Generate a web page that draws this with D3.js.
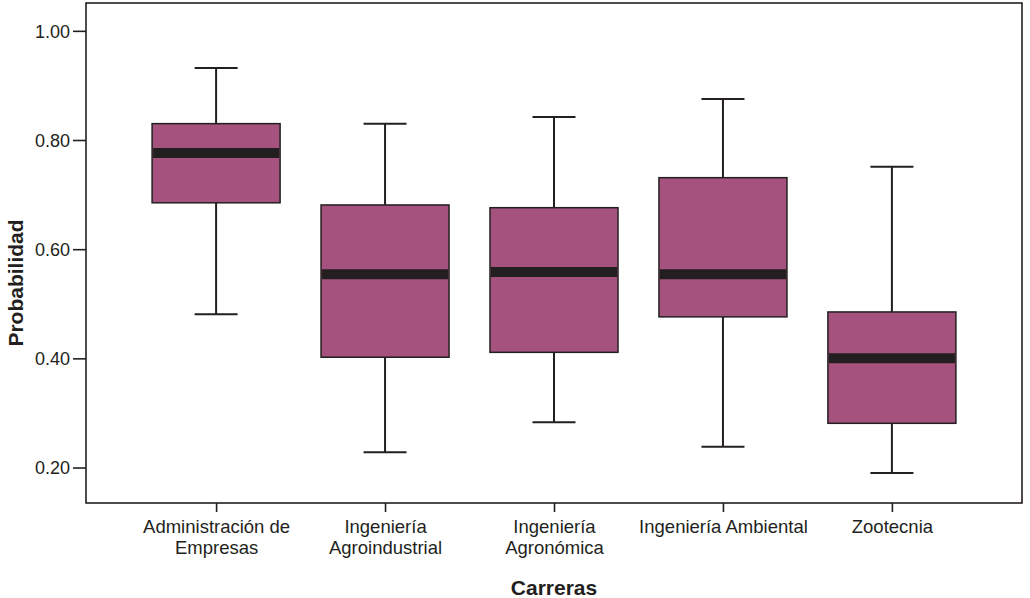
<!DOCTYPE html>
<html>
<head>
<meta charset="utf-8">
<script src="https://cdn.jsdelivr.net/npm/d3@7"></script>
<style>
  body { margin: 0; background: #fff; }
  svg { display: block; font-family: "Liberation Sans", Arial, sans-serif; }
</style>
</head>
<body>
<svg id="chart" width="1030" height="598"></svg>
<script>
// values
var carreras = [
  ["Administración de", "Empresas"],
  ["Ingeniería", "Agroindustrial"],
  ["Ingeniería", "Agronómica"],
  ["Ingeniería Ambiental"],
  ["Zootecnia"]
];
var whiskerLow  = [0.481, 0.228, 0.283, 0.238, 0.190];
var q1          = [0.685, 0.402, 0.411, 0.476, 0.281];
var medians     = [0.776, 0.554, 0.558, 0.554, 0.400];
var q3          = [0.830, 0.681, 0.676, 0.731, 0.485];
var whiskerHigh = [0.932, 0.830, 0.842, 0.875, 0.751];
var yTicks = [0.2, 0.4, 0.6, 0.8, 1.0];

var ink = "#231f20",
    fill = "#a5527e";

var svg = d3.select("#chart"),
    margin = {left: 86, right: 8, top: 3, bottom: 95},
    width = +svg.attr("width") - margin.left - margin.right,
    height = +svg.attr("height") - margin.top - margin.bottom;

var g = svg.append("g").attr("transform", "translate(" + margin.left + "," + margin.top + ")");

var keys = carreras.map(function(d) { return d.join(" "); });

var x = d3.scalePoint()
    .domain(keys)
    .range([0, width])
    .padding(0.77);

var y = d3.scaleLinear()
    .domain([0.135, 1.051])
    .range([height, 0]);

var boxW = 128, capW = 43;

var rows = keys.map(function(k, i) {
  return {key: k, lo: whiskerLow[i], q1: q1[i], med: medians[i], q3: q3[i], hi: whiskerHigh[i]};
});

var box = g.selectAll(".box").data(rows).enter().append("g")
    .attr("class", "box")
    .attr("transform", function(d) { return "translate(" + x(d.key) + ",0)"; });

// whiskers
box.append("line")
    .attr("y1", function(d) { return y(d.hi); })
    .attr("y2", function(d) { return y(d.q3); })
    .attr("stroke", ink).attr("stroke-width", 2);
box.append("line")
    .attr("y1", function(d) { return y(d.q1); })
    .attr("y2", function(d) { return y(d.lo); })
    .attr("stroke", ink).attr("stroke-width", 2);
box.append("line")
    .attr("x1", -capW / 2).attr("x2", capW / 2)
    .attr("y1", function(d) { return y(d.hi); })
    .attr("y2", function(d) { return y(d.hi); })
    .attr("stroke", ink).attr("stroke-width", 2);
box.append("line")
    .attr("x1", -capW / 2).attr("x2", capW / 2)
    .attr("y1", function(d) { return y(d.lo); })
    .attr("y2", function(d) { return y(d.lo); })
    .attr("stroke", ink).attr("stroke-width", 2);

box.append("rect")
    .attr("x", -boxW / 2)
    .attr("width", boxW)
    .attr("y", function(d) { return y(d.q3); })
    .attr("height", function(d) { return y(d.q1) - y(d.q3); })
    .attr("fill", fill)
    .attr("stroke", ink)
    .attr("stroke-width", 1.5);

box.append("line")
    .attr("x1", -boxW / 2 + 1).attr("x2", boxW / 2 - 1)
    .attr("y1", function(d) { return y(d.med); })
    .attr("y2", function(d) { return y(d.med); })
    .attr("stroke", ink).attr("stroke-width", 10);

// frame
g.append("rect")
    .attr("width", width).attr("height", height)
    .attr("fill", "none").attr("stroke", ink).attr("stroke-width", 1.6);

// y axis
var yAxis = g.append("g")
    .call(d3.axisLeft(y).tickValues(yTicks).tickFormat(d3.format(".2f")).tickSize(13).tickPadding(3));
yAxis.select(".domain").remove();
yAxis.selectAll("line").attr("stroke", ink).attr("stroke-width", 1.6);
yAxis.selectAll("text").attr("font-size", 18).attr("fill", ink).attr("dy", "0.35em");

// x axis
var xAxis = g.append("g")
    .attr("transform", "translate(0," + height + ")")
    .call(d3.axisBottom(x).tickSize(9).tickFormat(""));
xAxis.select(".domain").remove();
xAxis.selectAll("line").attr("stroke", ink).attr("stroke-width", 1.6);

xAxis.selectAll(".tick").each(function(d, i) {
  var t = d3.select(this).append("text")
      .attr("text-anchor", "middle")
      .attr("font-size", 18.5)
      .attr("fill", ink)
      .attr("y", 30);
  carreras[i].forEach(function(line, j) {
    t.append("tspan").attr("x", 0).attr("dy", j === 0 ? 0 : 21).text(line);
  });
});

// axis titles
svg.append("text")
    .attr("transform", "translate(23,283) rotate(-90)")
    .attr("text-anchor", "middle")
    .attr("font-size", 21)
    .attr("font-weight", "bold")
    .attr("fill", ink)
    .text("Probabilidad");

svg.append("text")
    .attr("x", margin.left + width / 2)
    .attr("y", 595)
    .attr("text-anchor", "middle")
    .attr("font-size", 21)
    .attr("font-weight", "bold")
    .attr("fill", ink)
    .text("Carreras");
</script>
</body>
</html>
